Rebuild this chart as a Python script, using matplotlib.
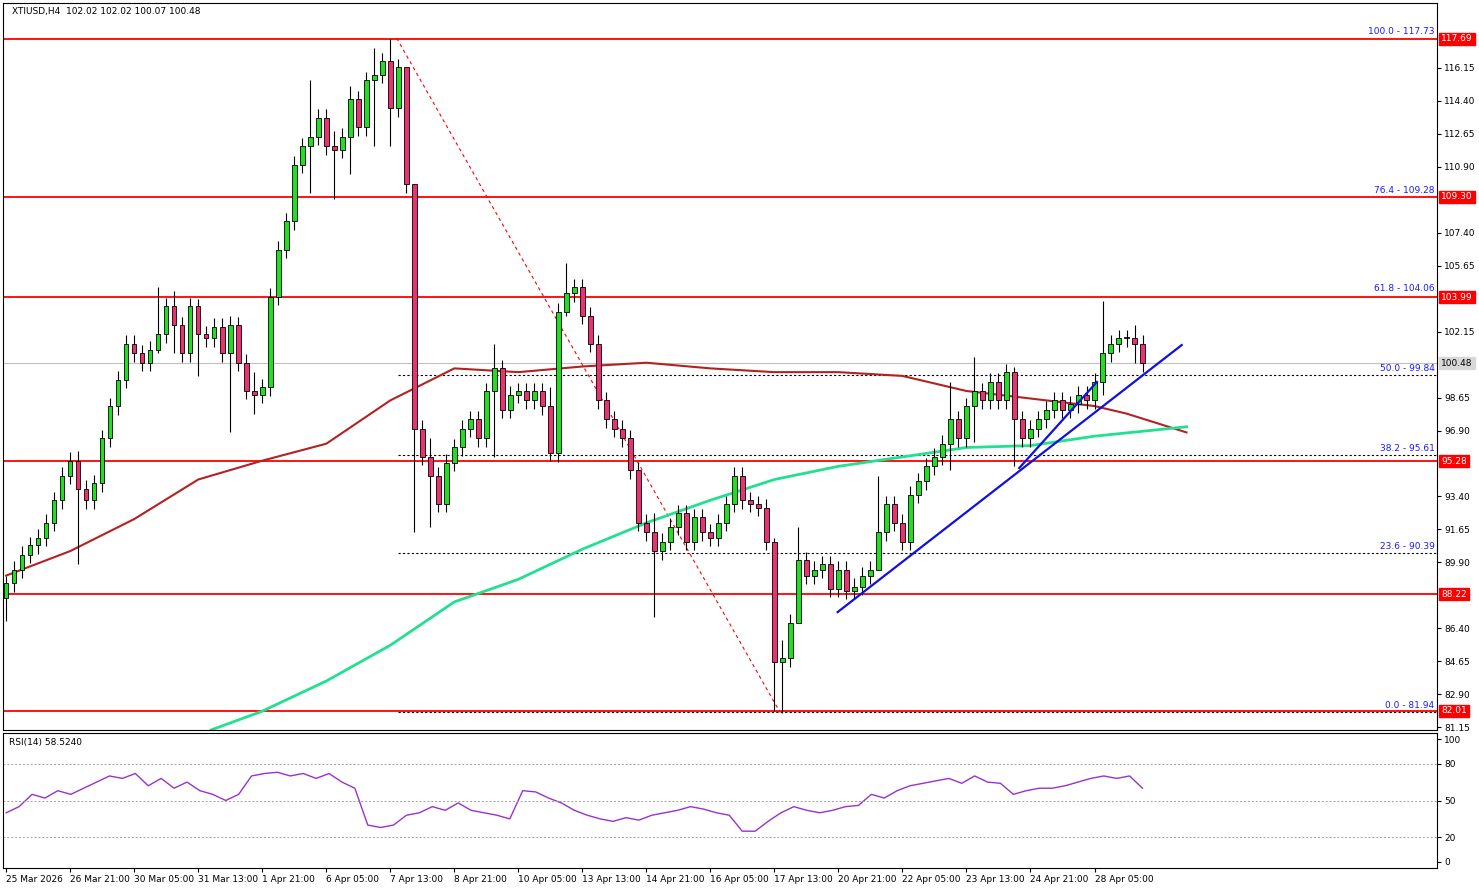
import numpy as np
import matplotlib.pyplot as plt

closes = [88.8, 89.5, 90.3, 90.8, 91.2, 92.0, 93.2, 94.5,
          95.3, 93.8, 93.2, 94.1, 96.5, 98.2, 99.6,
          101.5, 101.0, 100.5, 101.2, 102.0, 103.5,
          102.5, 101.0, 103.5, 102.0, 101.8, 102.4, 101.0, 102.5,
          100.5, 99.0, 98.8, 99.2,
          104.0, 106.5, 108.0, 111.0,
          112.0, 112.5, 113.5, 112.0, 111.8,
          112.5, 114.5, 113.0, 115.5, 115.8, 116.5, 114.0,
          116.2, 110.0, 97.0,
          95.5, 94.5, 93.0, 95.2, 96.0,
          97.0, 97.5, 96.5, 99.0, 100.2,
          98.0, 98.8, 99.0, 98.5, 99.0, 98.2,
          95.7,
          103.2, 104.2, 104.5, 103.0, 101.5,
          98.5, 97.5, 97.0, 96.5, 94.8,
          92.0, 91.5, 90.5, 91.0,
          91.8, 92.5, 91.0, 92.3, 91.5, 91.2, 92.0, 93.0,
          94.5, 93.2, 93.0, 92.8, 91.0,
          84.6, 84.8, 86.7,
          90.0, 89.2, 89.5, 89.8, 88.5, 89.5, 88.4, 88.6, 89.2,
          89.5, 91.5, 93.0, 92.0, 91.0, 93.5,
          94.2, 95.0, 95.5, 96.2, 97.5,
          96.5, 98.2, 99.0, 98.5, 99.5, 98.5,
          100.0, 97.5,
          96.5, 97.0, 97.5,
          98.0, 98.5, 98.0, 98.3, 98.8, 98.5, 99.5, 101.0,
          101.5, 101.8, 101.8, 101.5, 100.48]
first_open = 88.0
# notable wicks: index -> (high, low)
wick_over = {0: (89.2, 86.8), 9: (95.8, 89.8), 19: (104.5, 101.0), 21: (104.3, 101.0),
             24: (103.9, 99.8), 28: (103.0, 96.8), 31: (100.0, 97.8), 38: (115.5, 109.5),
             41: (112.8, 109.2), 43: (115.2, 110.5), 46: (117.2, 112.0), 48: (117.7, 112.0),
             50: (116.0, 109.5), 51: (110.0, 91.5), 53: (96.5, 91.8), 61: (101.5, 95.5),
             68: (99.2, 95.3), 70: (105.8, 103.0), 81: (92.5, 87.0), 96: (91.2, 82.0),
             97: (85.8, 81.9), 99: (91.8, 89.0), 109: (94.5, 89.5), 118: (99.5, 94.8),
             121: (100.8, 96.3), 126: (100.3, 95.0), 137: (103.8, 98.8), 141: (102.5, 100.5)}

dates = ["25 Mar 2026", "26 Mar 21:00", "30 Mar 05:00", "31 Mar 13:00", "1 Apr 21:00",
         "6 Apr 05:00", "7 Apr 13:00", "8 Apr 21:00", "10 Apr 05:00", "13 Apr 13:00",
         "14 Apr 21:00", "16 Apr 05:00", "17 Apr 13:00", "20 Apr 21:00", "22 Apr 05:00",
         "23 Apr 13:00", "24 Apr 21:00", "28 Apr 05:00"]

ma_red_x = [0, 8, 16, 24, 32, 40, 48, 56, 64, 72, 80, 88, 96, 104, 112, 120, 128, 136, 140, 147.5]
ma_red = [89.2, 90.5, 92.2, 94.3, 95.3, 96.2, 98.5, 100.2, 100.0, 100.3, 100.5, 100.2,
          100.0, 100.0, 99.8, 99.0, 98.6, 98.2, 97.8, 96.8]
ma_grn_x = [25.6, 32, 40, 48, 56, 64, 72, 80, 88, 96, 104, 112, 120, 128, 136, 147.5]
ma_grn = [81.0, 82.0, 83.6, 85.5, 87.8, 89.0, 90.6, 92.0, 93.2, 94.3, 95.0, 95.5,
          96.0, 96.1, 96.6, 97.1]

rsi = [40, 45, 55, 52, 58, 55, 60, 65, 70, 68, 72, 62, 68, 60, 65, 58, 55, 50, 55, 70,
       72, 73, 70, 72, 68, 72, 65, 60, 30, 28, 30, 38, 40, 45, 42, 48, 42, 40, 38, 35,
       58, 57, 52, 48, 42, 38, 35, 33, 36, 34, 38, 40, 42, 45, 43, 40, 38, 25, 25, 33,
       40, 45, 42, 40, 42, 45, 46, 55, 52, 58, 62, 64, 66, 68, 64, 70, 65, 64, 55, 58,
       60, 60, 62, 65, 68, 70, 68, 70, 60]

levels = [117.69, 109.30, 103.99, 95.28, 88.22, 82.01]
fib_levels = [(0.0, 81.94), (23.6, 90.39), (38.2, 95.61), (50.0, 99.84),
              (61.8, 104.06), (76.4, 109.28), (100.0, 117.73)]
last_price = 100.48

fig = plt.figure(figsize=(14.79, 8.88), dpi=100)
W, H = 1479, 888
ax = fig.add_axes([3 / W, 1 - 730 / H, 1434 / W, 727 / H])
axr = fig.add_axes([3 / W, 1 - 868 / H, 1434 / W, 135 / H])
ymin, ymax = 81.0, 119.6
ax.set_ylim(ymin, ymax)
xmin, xmax = -0.4, 178.8
ax.set_xlim(xmin, xmax)
axr.set_xlim(xmin, xmax)

n = len(closes)
opens = [first_open] + closes[:-1]
for i in range(n):
    o, c = opens[i], closes[i]
    hi, lo = wick_over.get(i, (max(o, c) + 0.45, min(o, c) - 0.45))
    up = c >= o
    col = "#22dd22" if up else "#e8336f"
    ax.vlines(i, lo, hi, color="black", lw=0.8, zorder=3)
    b = max(abs(c - o), 0.08)
    ax.add_patch(plt.Rectangle((i - 0.28, min(o, c)), 0.56, b, facecolor=col,
                               edgecolor="black", lw=0.6, zorder=4))

ax.plot(ma_red_x, ma_red, color="#b22222", lw=1.5, zorder=2)
ax.plot(ma_grn_x, ma_grn, color="#22e090", lw=2, zorder=2)

for lv in levels:
    ax.axhline(lv, color="red", lw=1.3, zorder=1)
ax.axhline(last_price, color="#c0c0c0", lw=0.8, zorder=0)
for pct, lv in fib_levels:
    if pct in (0.0, 23.6, 38.2, 50.0):
        ax.hlines(lv, 49, xmax, color="black", lw=0.8, linestyles=(0, (2, 2)), zorder=1)
    ax.text(xmax - 0.3, lv + 0.12, f"{pct:.1f} - {lv:.2f}", color="#1a1aff", fontsize=6.5,
            ha="right", va="bottom")
ax.plot([48.8, 96.7], [117.73, 81.94], color="red", lw=0.8, ls=(0, (3, 3)), zorder=1)
ax.plot([103.9, 146.9], [87.26, 101.44], color="#1010e0", lw=1.6, zorder=5)
ax.plot([126.6, 136.3], [94.91, 99.48], color="#1010e0", lw=1.6, zorder=5)

ax.set_xticks([])
ax.yaxis.tick_right()
ticks = [81.15 + 1.75 * k for k in range(21)]
ticks = [t for t in ticks if t < 117 and all(abs(t - lv) > 0.8 for lv in levels + [last_price])]
ax.set_yticks(ticks)
ax.set_yticklabels([f"{t:.2f}" for t in ticks], fontsize=6.5)
ax.tick_params(axis="y", length=3, pad=2)
for lv in levels:
    ax.text(1.003, lv, f"{lv:.2f}", transform=ax.get_yaxis_transform(), fontsize=6.5,
            color="white", va="center", ha="left",
            bbox=dict(boxstyle="square,pad=0.2", fc="red", ec="red"))
ax.text(1.003, last_price, f"{last_price:.2f}", transform=ax.get_yaxis_transform(), fontsize=6.5,
        color="black", va="center", ha="left",
        bbox=dict(boxstyle="square,pad=0.2", fc="#d8d8d8", ec="#d8d8d8"))
ax.text(0.006, 0.995, "XTIUSD,H4  102.02 102.02 100.07 100.48", transform=ax.transAxes,
        fontsize=6.5, va="top")

rx = np.linspace(0, n - 1, len(rsi))
axr.plot(rx, rsi, color="#9932cc", lw=1)
axr.set_ylim(-5, 105)
for lv in (80, 50, 20):
    axr.axhline(lv, color="#a0a0a0", lw=0.7, ls=(0, (2, 2)))
axr.yaxis.tick_right()
axr.set_yticks([0, 20, 50, 80, 100])
axr.set_yticklabels(["0", "20", "50", "80", "100"], fontsize=6.5)
axr.tick_params(axis="y", length=3, pad=2)
axr.set_xticks([8 * k for k in range(len(dates))])
axr.set_xticklabels(dates, fontsize=6.5, ha="left")
axr.tick_params(axis="x", length=3, pad=2)
axr.text(0.004, 0.96, "RSI(14) 58.5240", transform=axr.transAxes, fontsize=6.5, va="top")

fig.savefig("out.png", dpi=100)
